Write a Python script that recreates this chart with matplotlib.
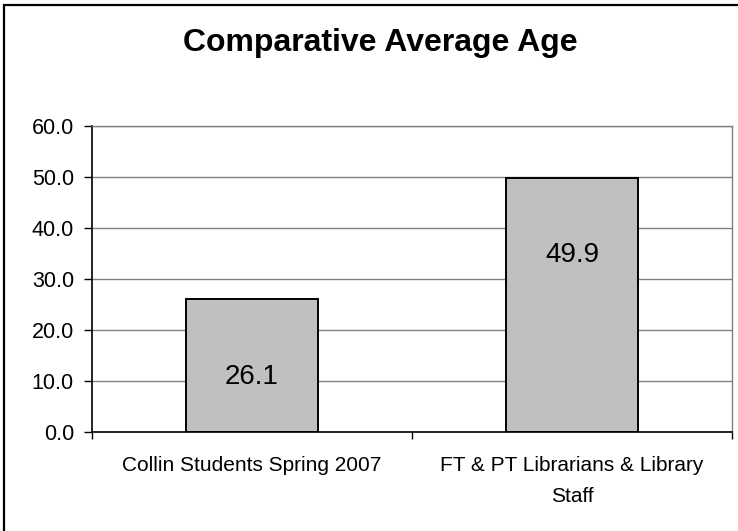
import matplotlib
matplotlib.use('Agg')
import matplotlib.pyplot as plt
from matplotlib.patches import Rectangle

plt.rcParams['font.family'] = ['Liberation Sans', 'DejaVu Sans']

categories = ['Collin Students Spring 2007', 'FT & PT Librarians & Library\nStaff']
ages = [26.1, 49.9]
yticks = [0, 10, 20, 30, 40, 50, 60]

fig = plt.figure(figsize=(7.38, 5.31), dpi=100)
ax = fig.add_axes([92/738, 1-432/531, 640/738, 306/531])

x = list(range(len(categories)))
bars = ax.bar(x, ages, width=0.41, color='#c0c0c0', edgecolor='black',
              linewidth=1.4, zorder=3)

# value labels sit a fixed distance below the top of each bar
for b, v in zip(bars, ages):
    ax.annotate(f'{v:.1f}', (b.get_x() + b.get_width()/2, v),
                xytext=(0, -56), textcoords='offset points',
                ha='center', va='center', fontsize=20, zorder=4)

ax.set_xlim(-0.5, 1.5)
ax.set_ylim(0, 60)
ax.set_yticks(yticks)
ax.set_yticklabels([f'{t:.1f}' for t in yticks])
ax.yaxis.grid(True, color='#808080', linewidth=1.0, zorder=0)

ax.set_xticks([-0.5, 0.5, 1.5])
ax.set_xticklabels([])
ax.set_xticks(x, minor=True)
ax.set_xticklabels(categories, minor=True, fontsize=15, linespacing=1.8)
ax.tick_params(axis='x', which='minor', length=0, pad=17)
ax.tick_params(axis='x', which='major', length=5, width=1, color='black', direction='out')
ax.tick_params(axis='y', length=6, width=1, pad=7, labelsize=15.5)

for s in ['top', 'right']:
    ax.spines[s].set_color('#808080')
    ax.spines[s].set_linewidth(1.0)
for s in ['left', 'bottom']:
    ax.spines[s].set_color('black')
    ax.spines[s].set_linewidth(1.2)
ax.spines['bottom'].set_zorder(5)

fig.text(380/738, 1-43/531, 'Comparative Average Age', ha='center', va='center',
         fontsize=23, fontweight='bold')

# chart frame, only the left and top edges fall inside the image
fig.patches.append(Rectangle((3.5/738, -0.1), 1.2, 1.1 - 5/531,
                             transform=fig.transFigure, fill=False,
                             edgecolor='black', linewidth=1.6))

fig.savefig('out.png', dpi=100)
